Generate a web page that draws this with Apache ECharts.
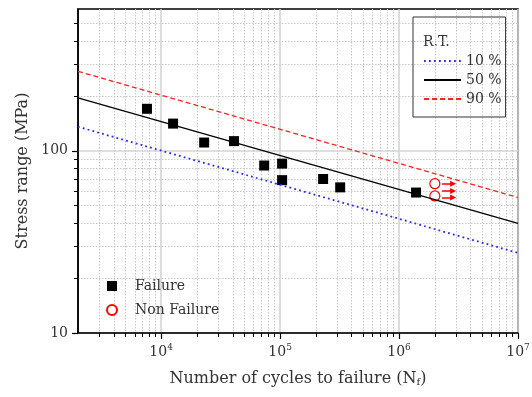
<!DOCTYPE html>
<html>
<head>
<meta charset="utf-8">
<script src="https://cdn.jsdelivr.net/npm/echarts@6/dist/echarts.min.js"></script>
<style>
    html, body { margin: 0; padding: 0; background: #fff; }
    #chart { width: 532px; height: 397px; }
</style>
</head>
<body>
<div id="chart"></div>
<script>
    // S-N data (cycles, MPa)
    const failureN = [7600, 12600, 23000, 41000, 73500, 104000, 104000, 230000, 320000, 1390000]
    const failureS = [170, 141, 111, 113, 83, 85, 69, 70, 63, 59]
    const nonFailureN = [2000000, 2000000]
    const nonFailureS = [66, 56.5]
    // run-out arrows
    const arrowS = [66, 60.2, 55.4]
    const arrowFromN = 2300000
    const arrowToN = 2850000

    // probability lines, end points at the axis limits
    const lineN = [2000, 10000000]
    const p10S = [135.5, 27.5]
    const p50S = [195, 40]
    const p90S = [273, 55.4]

    const xMajorTicks = [10000, 100000, 1000000, 10000000]
    const xMinorTicks = [3000, 4000, 5000, 6000, 7000, 8000, 9000,
        20000, 30000, 40000, 50000, 60000, 70000, 80000, 90000,
        200000, 300000, 400000, 500000, 600000, 700000, 800000, 900000,
        2000000, 3000000, 4000000, 5000000, 6000000, 7000000, 8000000, 9000000]
    const yMajorTicks = [10, 100]
    const yMinorTicks = [20, 30, 40, 50, 60, 70, 80, 90, 200, 300, 400, 500]

    const FONT = 'DejaVu Serif'
    const TXT = '#333'

    function pairs(xs, ys){
        return xs.map((x, i) => [x, ys[i]])
    }

    function chart_option(){
        const majorGrid = { show: true, lineStyle: { color: '#d4d4d4', width: 1.6, type: 'solid' } }
        const minorGrid = { show: true, lineStyle: { color: '#c8c8c8', width: 1, type: [1.5, 1.5] } }
        return {
            animation: false,
            backgroundColor: '#fff',
            textStyle: { fontFamily: FONT },
            grid: {
                left: 78, right: 14, top: 9, bottom: 64,
                containLabel: false,
                outerBoundsMode: 'none',
                show: true,
                borderColor: '#000',
                borderWidth: 1.5,
            },
            graphic: [
                { type: 'text', left: 423, top: 35, style: { text: 'R.T.', font: '14px "DejaVu Serif"', fill: TXT } },
            ],
            legend: [
                {
                    data: ['10 %', '50 %', '90 %'],
                    orient: 'vertical',
                    left: 413, top: 17,
                    padding: [37, 4, 11, 10],
                    itemGap: 5,
                    itemWidth: 37,
                    itemHeight: 14,
                    borderColor: '#333',
                    borderWidth: 1,
                    selectedMode: false,
                    itemStyle: { color: 'rgba(0,0,0,0)', borderWidth: 0, opacity: 0 },
                    textStyle: { fontFamily: FONT, fontSize: 14, color: TXT },
                },
                {
                    data: ['Failure', 'Non Failure'],
                    orient: 'vertical',
                    left: 106, top: 279,
                    padding: 0,
                    itemGap: 10,
                    itemWidth: 10,
                    itemHeight: 10,
                    selectedMode: false,
                    textStyle: { fontFamily: FONT, fontSize: 14, color: TXT, padding: [0, 0, 0, 13] },
                },
            ],
            xAxis: [
                {
                    type: 'log', logBase: 10, min: 2000, max: 10000000,
                    position: 'bottom',
                    name: 'Number of cycles to failure (N{f|f})',
                    nameLocation: 'middle',
                    nameGap: 38,
                    nameTextStyle: {
                        fontFamily: FONT, fontSize: 16, color: TXT,
                        rich: { f: { fontFamily: FONT, fontSize: 10, color: TXT, verticalAlign: 'bottom' } },
                    },
                    axisLine: { show: true, lineStyle: { color: '#000', width: 1.5 } },
                    axisTick: { show: true, inside: false, length: 6, customValues: xMajorTicks, lineStyle: { color: '#000', width: 1.2 } },
                    axisLabel: {
                        customValues: xMajorTicks,
                        margin: 10,
                        formatter: (v) => '{b|10}{s|' + Math.round(Math.log10(v)) + '}',
                        rich: {
                            b: { fontFamily: FONT, fontSize: 14, color: TXT, lineHeight: 18 },
                            s: { fontFamily: FONT, fontSize: 9, color: TXT, verticalAlign: 'top' },
                        },
                    },
                    splitLine: majorGrid,
                },
                {
                    type: 'log', logBase: 10, min: 2000, max: 10000000,
                    position: 'bottom',
                    axisLine: { show: false },
                    axisTick: { show: true, inside: false, length: 4, customValues: xMinorTicks, lineStyle: { color: '#000', width: 1 } },
                    axisLabel: { show: false },
                    splitLine: minorGrid,
                },
            ],
            yAxis: [
                {
                    type: 'log', logBase: 10, min: 10, max: 600,
                    position: 'left',
                    name: 'Stress range (MPa)',
                    nameLocation: 'middle',
                    nameGap: 39,
                    nameTextStyle: { fontFamily: FONT, fontSize: 16, color: TXT },
                    axisLine: { show: true, lineStyle: { color: '#000', width: 1.5 } },
                    axisTick: { show: true, inside: false, length: 6, customValues: yMajorTicks, lineStyle: { color: '#000', width: 1.2 } },
                    axisLabel: {
                        customValues: yMajorTicks,
                        margin: 10,
                        fontFamily: FONT, fontSize: 14, color: TXT,
                        formatter: (v) => String(Math.round(v)),
                    },
                    splitLine: majorGrid,
                },
                {
                    type: 'log', logBase: 10, min: 10, max: 600,
                    position: 'left',
                    axisLine: { show: false },
                    axisTick: { show: true, inside: false, length: 4, customValues: yMinorTicks, lineStyle: { color: '#000', width: 1 } },
                    axisLabel: { show: false },
                    splitLine: minorGrid,
                },
            ],
            series: [
                {
                    type: 'line', name: '10 %',
                    data: pairs(lineN, p10S),
                    symbol: 'none',
                    lineStyle: { color: '#2a2aff', width: 1.8, type: [1.8, 3.2] },
                    itemStyle: { color: '#2a2aff' },
                },
                {
                    type: 'line', name: '50 %',
                    data: pairs(lineN, p50S),
                    symbol: 'none',
                    lineStyle: { color: '#000', width: 1.3, type: 'solid' },
                    itemStyle: { color: '#000' },
                },
                {
                    type: 'line', name: '90 %',
                    data: pairs(lineN, p90S),
                    symbol: 'none',
                    lineStyle: { color: '#ff2020', width: 1.3, type: [5, 3] },
                    itemStyle: { color: '#ff2020' },
                },
                {
                    type: 'scatter', name: 'Failure',
                    data: pairs(failureN, failureS),
                    symbol: 'rect',
                    symbolSize: 10,
                    itemStyle: { color: '#000', opacity: 1 },
                },
                {
                    type: 'scatter', name: 'Non Failure',
                    data: pairs(nonFailureN, nonFailureS),
                    symbol: 'circle',
                    symbolSize: 10,
                    itemStyle: { color: '#fff', borderColor: '#ff0000', borderWidth: 1.2, opacity: 1 },
                    markLine: {
                        silent: true,
                        symbol: ['none', 'triangle'],
                        symbolSize: [6, 6],
                        label: { show: false },
                        lineStyle: { color: '#ff0000', width: 1.5, type: 'solid' },
                        data: arrowS.map((s) => [{ coord: [arrowFromN, s] }, { coord: [arrowToN, s] }]),
                    },
                },
            ],
        }
    }

    const chart = echarts.init(document.getElementById('chart'), null, { renderer: 'canvas' })
    chart.setOption(chart_option())
</script>
</body>
</html>
